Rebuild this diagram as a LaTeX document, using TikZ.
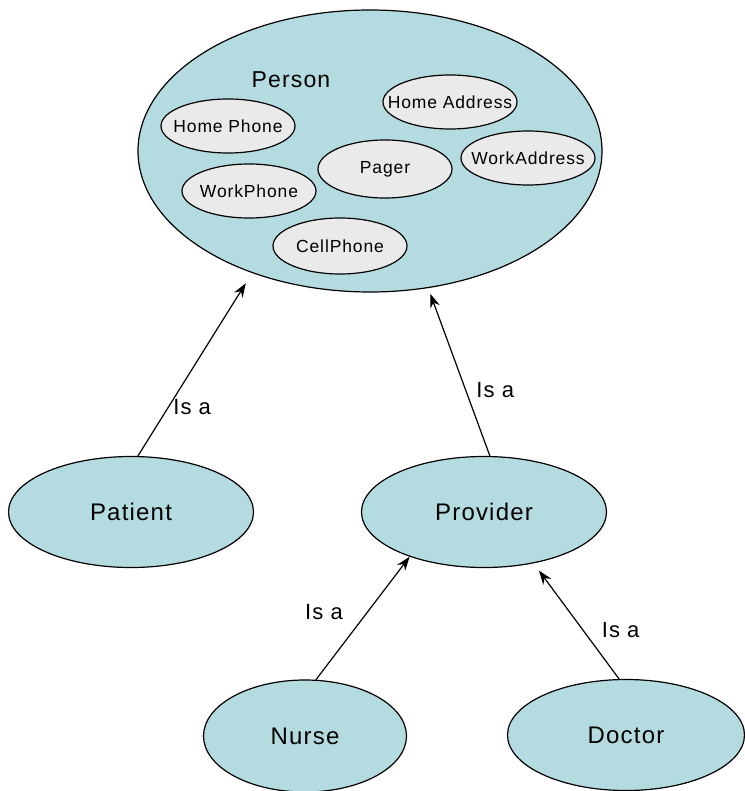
\documentclass[tikz,border=0pt]{standalone}
\usepackage{fontspec}
\setmainfont{Liberation Sans}[LetterSpace=5]
\usetikzlibrary{arrows.meta, shapes.geometric, positioning}
\definecolor{bubble}{RGB}{180,220,224}
\definecolor{attrgrey}{RGB}{234,234,234}

\begin{document}
\begin{tikzpicture}[
    x=1pt, y=-1pt,
    klasse/.style = {ellipse, draw, fill=bubble, line width=1.2pt, inner sep=0pt, font=\fontsize{24}{28}\selectfont},
    attrib/.style = {ellipse, draw, fill=attrgrey, line width=1.2pt, inner xsep=-18pt, inner ysep=0pt, minimum width=134pt, minimum height=54pt, font=\fontsize{17.5}{21}\selectfont},
    pil/.style = {draw, black, line width=1.2pt, -{Stealth[length=14pt,width=10pt]}},
    isa/.style = {font=\fontsize{22}{26}\selectfont, inner sep=4pt}
    ]
  \useasboundingbox (0,0) rectangle (744,791);

  % the big class with its attributes
  \node[klasse, minimum width=464pt, minimum height=282pt] (person) at (370,151) {};
  \node[font=\fontsize{23}{27}\selectfont] (personlbl) at (291,80) {Person};
  \node[attrib] (homephone) at (228,126) {Home Phone};
  \node[attrib] (workphone) at (249,191) {WorkPhone};
  \node[attrib, minimum height=58pt] (pager) at (385,169) {Pager};
  \node[attrib] (homeaddr) at (450,102) {Home Address};
  \node[attrib] (workaddr) at (528,158) {WorkAddress};
  \node[attrib, minimum height=56pt] (cellphone) at (340,246) {CellPhone};

  % subclasses
  \node[klasse, minimum width=245pt, minimum height=111pt] (patient) at (131,512) {Patient};
  \node[klasse, minimum width=245pt, minimum height=111pt] (provider) at (484,512) {Provider};
  \node[klasse, minimum width=203pt, minimum height=112pt] (nurse) at (305,736) {Nurse};
  \node[klasse, minimum width=237pt, minimum height=111pt] (doctor) at (626,735) {Doctor};

  \draw
  (patient.83) edge[pil, shorten >=12pt] node[isa, right, pos=0.27] {Is a} (person.226)
  (provider.84) edge[pil, shorten >=6pt] node[isa, right, pos=0.39, xshift=6pt] {Is a} (person.293)
  (nurse.79) edge[pil] node[isa, left, pos=0.55, xshift=-20pt] {Is a} (provider.211)
  (doctor.97) edge[pil, shorten >=9pt] node[isa, right, pos=0.42, xshift=14pt] {Is a} (provider.314);
\end{tikzpicture}
\end{document}
